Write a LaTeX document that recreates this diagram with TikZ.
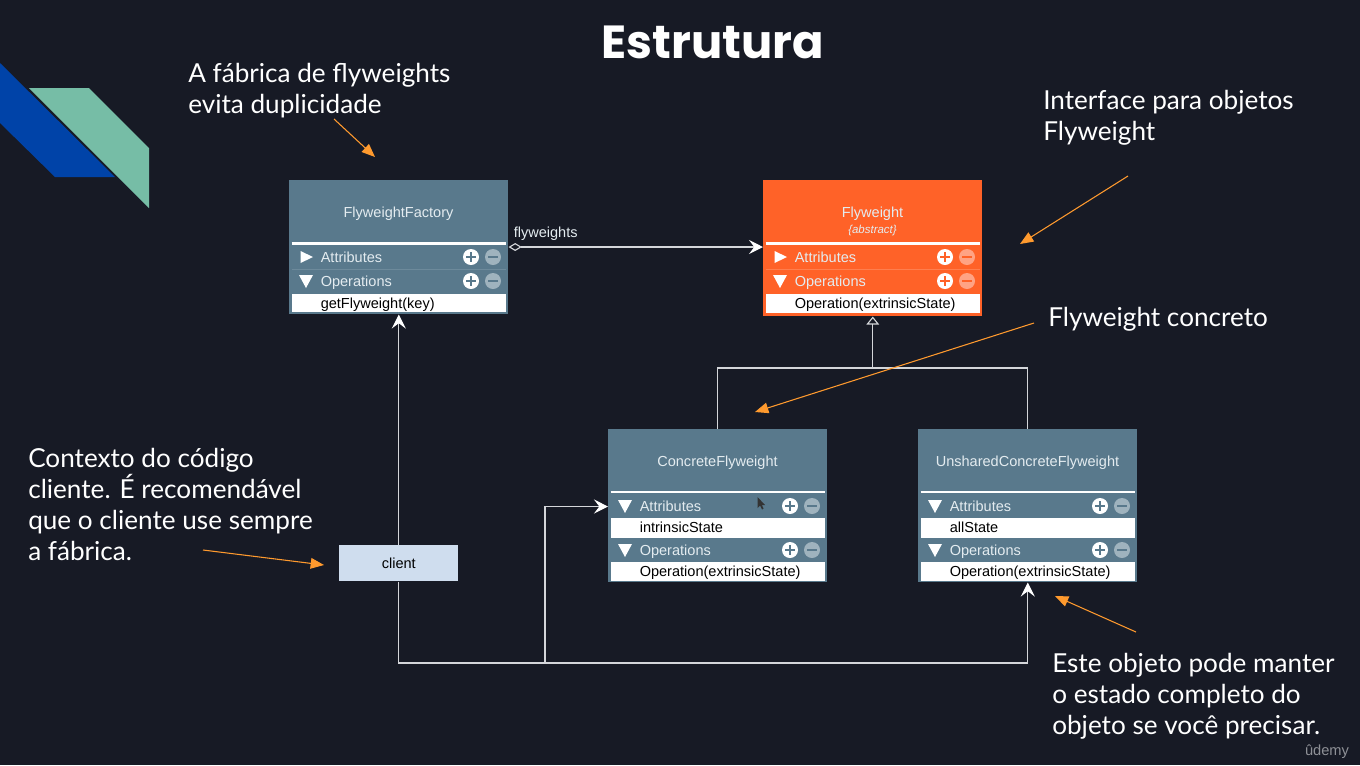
\documentclass[tikz,border=0pt]{standalone}
\usepackage{fontspec}
\setmainfont{Liberation Sans}
\newfontfamily\notefont{Lato}
\newfontfamily\titlefont{Poppins}
\usetikzlibrary{arrows.meta,positioning}
\definecolor{bgc}{HTML}{171A25}
\definecolor{boxc}{HTML}{59798C}
\definecolor{boxl}{HTML}{6D8A9B}
\definecolor{minc}{HTML}{9FB3BE}
\definecolor{orc}{HTML}{FF6228}
\definecolor{orl}{HTML}{FF7E4E}
\definecolor{minor}{HTML}{FFA384}
\definecolor{clientc}{HTML}{CFDDEE}
\definecolor{tealc}{HTML}{76BDA6}
\definecolor{bluec}{HTML}{0043A8}
\definecolor{arrc}{HTML}{FF9A2E}
\definecolor{txtc}{HTML}{E4ECF0}
\definecolor{linkc}{HTML}{D4D6DA}
\definecolor{wmc}{HTML}{8E9096}
\tikzset{
  umlbox/.style={anchor=north west,inner sep=0pt,minimum width=164.25pt,draw=none},
  headtext/.style={anchor=base,inner sep=0pt,font=\fontsize{10.9}{12}\selectfont,text=txtc},
  rowtext/.style={anchor=base west,inner sep=0pt,font=\fontsize{10.9}{12}\selectfont,text=txtc},
  itemtext/.style={anchor=base west,inner sep=0pt,font=\fontsize{10.9}{12}\selectfont,text=black},
  note/.style={anchor=north west,inner sep=0pt,align=left,text=white,font=\notefont\fontsize{19.6}{23.25}\selectfont},
  notearrow/.style={draw=arrc,line width=0.8pt,-{Triangle[length=10pt,width=8pt]}},
  link/.style={draw=linkc,line width=0.85pt},
  openarrow/.style={link,-{Stealth[length=10.5pt,width=10.5pt,inset=4pt,white]}},
  hollowtri/.style={link,-{Triangle[open,length=6pt,width=9.5pt,fill=bgc,line width=0.85pt]}},
  odiamond/.style={link,{Diamond[open,length=10pt,width=6pt,fill=bgc,line width=0.85pt]}-{Stealth[length=10.5pt,width=10.5pt,inset=4pt,white]}}
}
% #1 prefix, #2 left, #3 row centre y, #4 text, #5 open(1)/closed(0), #6 minus colour, #7 fill colour
\newcommand{\umlrow}[7]{%
  \ifnum#5=1
    \fill[white] (#2+10,#3-6) -- (#2+24,#3-6) -- (#2+17,#3+7) -- cycle;
  \else
    \fill[white] (#2+11.5,#3-6) -- (#2+24,#3) -- (#2+11.5,#3+6) -- cycle;
  \fi
  \node[rowtext] (#1t) at (#2+31.5,#3+5) {#4};
  \fill[white] (#2+182,#3) circle (8);
  \draw[#7,line width=1.4pt] (#2+177,#3) -- (#2+187,#3) (#2+182,#3-5) -- (#2+182,#3+5);
  \fill[#6] (#2+204,#3) circle (8);
  \draw[#7,line width=1.4pt] (#2+199,#3) -- (#2+209,#3);
}
\newcommand{\umlitem}[5]{% prefix, left, top, bottom, text
  \fill[white] (#2+2.5,#3) rectangle (#2+217,#4);
  \node[itemtext] (#1t) at (#2+31.5,{(#3+#4)/2+5}) {#5};
}
\begin{document}
\begin{tikzpicture}[x=0.75pt,y=-0.75pt]
\useasboundingbox (0,0) rectangle (1360,765);
\fill[bgc] (0,0) rectangle (1360,765);

% corner decoration
\fill[bluec] (0,63) -- (115,177) -- (55,177) -- (0,123) -- cycle;
\fill[tealc] (29,88) -- (89,88) -- (149,148) -- (149,208) -- cycle;

% title
\node[inner sep=0pt,text=white,font=\titlefont\bfseries\fontsize{34.8}{40}\selectfont] (title) at (713,42) {Estrutura};

% boxes
\node[umlbox,fill=boxc,minimum height=100.5pt] (factory) at (289,180) {};
\node[umlbox,fill=orc,minimum height=102pt] (flyweight) at (763,180) {};
\node[umlbox,fill=boxc,minimum height=114.75pt] (concrete) at (608,429) {};
\node[umlbox,fill=boxc,minimum height=114.75pt] (unshared) at (918,429) {};
\node[anchor=north west,inner sep=0pt,fill=clientc,minimum width=89.25pt,minimum height=27pt,text=black,font=\fontsize{10.9}{12}\selectfont] (client) at (339,545) {client};

% factory
\node[headtext] (factoryh) at (398.5,217) {FlyweightFactory};
\draw[white,line width=1.9pt] (291.5,243.5) -- (506,243.5);
\draw[boxl,line width=0.6pt] (291.5,269) -- (506,269);
\umlrow{fa}{289}{257}{Attributes}{0}{minc}{boxc}
\umlrow{fo}{289}{281}{Operations}{1}{minc}{boxc}
\umlitem{fi}{289}{294}{312}{getFlyweight(key)}

% flyweight
\node[headtext] (flyh) at (872.5,217) {Flyweight};
\node[headtext,font=\itshape\fontsize{8.6}{10}\selectfont] (flya) at (872.5,233.5) {\{abstract\}};
\draw[white,line width=1.9pt] (765.5,243.5) -- (980,243.5);
\draw[orl,line width=0.6pt] (765.5,269) -- (980,269);
\umlrow{ya}{763}{257}{Attributes}{0}{minor}{orc}
\umlrow{yo}{763}{281}{Operations}{1}{minor}{orc}
\umlitem{yi}{763}{294}{312.5}{Operation(extrinsicState)}

% concrete
\node[headtext] (conch) at (717.5,466) {ConcreteFlyweight};
\draw[white,line width=1.9pt] (610.5,492) -- (825,492);
\umlrow{ca}{608}{506}{Attributes}{1}{minc}{boxc}
\umlitem{ci}{608}{518}{537.5}{intrinsicState}
\umlrow{co}{608}{550}{Operations}{1}{minc}{boxc}
\umlitem{cp}{608}{562}{580.5}{Operation(extrinsicState)}

% unshared
\node[headtext] (unsh) at (1027.5,466) {UnsharedConcreteFlyweight};
\draw[white,line width=1.9pt] (920.5,492) -- (1135,492);
\umlrow{ua}{918}{506}{Attributes}{1}{minc}{boxc}
\umlitem{ui}{918}{518}{537.5}{allState}
\umlrow{uo}{918}{550}{Operations}{1}{minc}{boxc}
\umlitem{up}{918}{562}{580.5}{Operation(extrinsicState)}

% mouse cursor
\fill[black!80] (757.5,497) -- (757.5,508) -- (760,505.5) -- (762,509.5) -- (763.5,508.5) -- (761.8,505) -- (765,505) -- cycle;

% connectors
\coordinate (assocA) at (508.5,247);
\coordinate (assocB) at (763,247);
\node[inner sep=0pt,anchor=base west,text=txtc,font=\fontsize{10.9}{12}\selectfont] (assocl) at (513.5,237.5) {flyweights};
\draw[odiamond] (assocA) -- (assocB);

\draw[openarrow] (client.north) -- (client.north |- factory.south);

\coordinate (busL) at (client.south |- 0,663);
\coordinate (busM) at (545,663);
\coordinate (busR) at (unshared.south |- 0,663);
\coordinate (conE) at (concrete.west |- 0,506.5);
\draw[openarrow] (client.south) -- (busL) -- (busR) -- (unshared.south);
\draw[openarrow] (busM) -- (busM |- conE) -- (conE);

\coordinate (inhL) at (concrete.north |- 0,368);
\coordinate (inhR) at (unshared.north |- 0,368);
\coordinate (inhM) at (flyweight.south |- 0,368);
\draw[link] (concrete.north) -- (inhL) -- (inhR) -- (unshared.north);
\draw[hollowtri] (inhM) -- (flyweight.south);

% notes
\node[note] (n1) at (188,63) {A fábrica de flyweights\\evita duplicidade};
\node[note] (n2) at (1043,90) {Interface para objetos\\Flyweight};
\node[note] (n3) at (1048,307) {Flyweight concreto};
\node[note] (n4) at (28,447.5) {Contexto do código\\cliente. É recomendável\\que o cliente use sempre\\a fábrica.};
\node[note] (n5) at (1052,652.5) {Este objeto pode manter\\o estado completo do\\objeto se você precisar.};

\coordinate (a1s) at (334,119); \coordinate (a1e) at (375,157);
\coordinate (a2s) at (1128,176); \coordinate (a2e) at (1020,244);
\coordinate (a3s) at (1034,323); \coordinate (a3e) at (755,412);
\coordinate (a4s) at (203,550); \coordinate (a4e) at (324,565);
\coordinate (a5s) at (1136,632); \coordinate (a5e) at (1055,596);
\draw[notearrow] (a1s) -- (a1e);
\draw[notearrow] (a2s) -- (a2e);
\draw[notearrow] (a3s) -- (a3e);
\draw[notearrow] (a4s) -- (a4e);
\draw[notearrow] (a5s) -- (a5e);

% watermark
\node[inner sep=0pt,text=wmc,font=\fontsize{11}{13}\selectfont] (wm) at (1327,752) {ûdemy};
\end{tikzpicture}
\end{document}
